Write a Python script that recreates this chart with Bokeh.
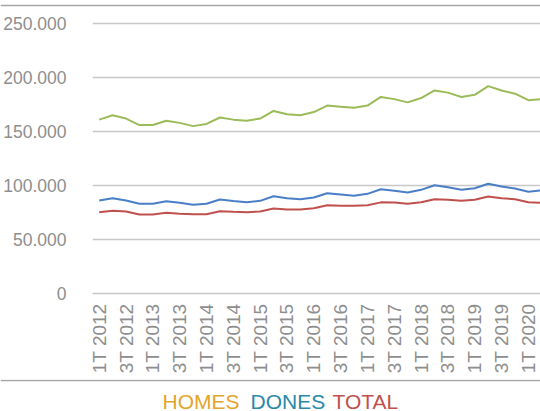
from bokeh.plotting import figure
from bokeh.layouts import column
from bokeh.models import FixedTicker, Label, Range1d
from bokeh.embed import file_html
from bokeh.resources import INLINE
from math import pi

quarters = ["1T 2012", "2T 2012", "3T 2012", "4T 2012",
            "1T 2013", "2T 2013", "3T 2013", "4T 2013",
            "1T 2014", "2T 2014", "3T 2014", "4T 2014",
            "1T 2015", "2T 2015", "3T 2015", "4T 2015",
            "1T 2016", "2T 2016", "3T 2016", "4T 2016",
            "1T 2017", "2T 2017", "3T 2017", "4T 2017",
            "1T 2018", "2T 2018", "3T 2018", "4T 2018",
            "1T 2019", "2T 2019", "3T 2019", "4T 2019",
            "1T 2020", "2T 2020"]

dones = [86100, 88200, 86100, 83100, 83100, 85500, 84000, 82100, 83100, 87000, 85700,
         84500, 85800, 90100, 88200, 87300, 88900, 92900, 91700, 90500, 92300, 96600,
         95100, 93500, 96000, 100300, 98400, 96000, 97500, 101600, 99100, 97200, 94200, 95600]

homes = [75300, 76600, 75900, 73100, 73100, 74700, 73800, 73400, 73400, 76200, 75600,
         75300, 75900, 78700, 77800, 77800, 79000, 81800, 81200, 81200, 81800, 84400,
         84300, 83100, 84500, 87300, 86800, 85800, 86800, 89800, 88200, 87300, 84500, 84000]

total = [161000, 165000, 162000, 156000, 156000, 160000, 158000, 155000, 157000, 163000, 161000,
         160000, 162000, 169000, 166000, 165000, 168000, 174000, 173000, 172000, 174000, 182000,
         180000, 177000, 181000, 188000, 186000, 182000, 184000, 192000, 188000, 185000, 179000, 180000]

y_ticks = [0, 50000, 100000, 150000, 200000, 250000]
y_labels = ["0", "50.000", "100.000", "150.000", "200.000", "250.000"]

title_words = ["HOMES", "DONES", "TOTAL"]
title_colors = ["#E2A52B", "#2A88A8", "#C0504D"]

FONT = "Liberation Sans"
GRAY = "#8E8E8E"
RULE = "#A6A6A6"
W = 540

idx = list(range(len(quarters)))


def strip(h):
    f = figure(width=W, height=h, output_backend="svg", toolbar_location=None, title=None,
               x_range=Range1d(0, W), y_range=Range1d(h, 0),
               x_axis_type=None, y_axis_type=None, frame_align=False,
               min_border_left=0, min_border_right=0, min_border_top=0, min_border_bottom=0)
    f.outline_line_color = None
    f.xgrid.visible = False
    f.ygrid.visible = False
    f.background_fill_color = "white"
    f.border_fill_color = "white"
    return f


# top rule
top = strip(12)
top.quad(left=[0], right=[W], top=[4.3], bottom=[5.7], fill_color=RULE, line_color=None)

# main chart
p = figure(width=W, height=367, output_backend="svg", toolbar_location=None, title=None,
           x_range=Range1d(-0.5, 32.9), y_range=Range1d(0, 252800), frame_align=False,
           min_border_left=92, min_border_right=0, min_border_top=8, min_border_bottom=86)
p.outline_line_color = None
p.background_fill_color = "white"
p.border_fill_color = "white"

p.line(idx, total, line_color="#9BBB59", line_width=2)
p.line(idx, dones, line_color="#4A7EC7", line_width=2)
p.line(idx, homes, line_color="#C0504D", line_width=2)

p.yaxis.ticker = FixedTicker(ticks=y_ticks)
p.yaxis.major_label_overrides = {t: l for t, l in zip(y_ticks, y_labels)}
p.yaxis.axis_line_color = None
p.yaxis.major_tick_line_color = None
p.yaxis.minor_tick_line_color = None
p.yaxis.major_label_standoff = 20
p.yaxis.major_label_text_font = FONT
p.yaxis.major_label_text_font_size = "17.5px"
p.yaxis.major_label_text_color = GRAY

even = idx[::2]
p.xaxis.ticker = FixedTicker(ticks=even)
p.xaxis.major_label_overrides = {i: quarters[i] for i in even}
p.xaxis.major_label_orientation = pi / 2
p.xaxis.axis_line_color = "#C8C8C8"
p.xaxis.axis_line_width = 1.3
p.xaxis.major_tick_line_color = None
p.xaxis.minor_tick_line_color = None
p.xaxis.major_label_standoff = 4
p.xaxis.major_label_text_font = FONT
p.xaxis.major_label_text_font_size = "19px"
p.xaxis.major_label_text_color = GRAY

p.xgrid.grid_line_color = None
p.ygrid.ticker = FixedTicker(ticks=y_ticks)
p.ygrid.grid_line_color = "#C8C8C8"
p.ygrid.grid_line_width = 1.3

# bottom rule + coloured title
bot = strip(32)
bot.quad(left=[0], right=[W], top=[0.3], bottom=[1.7], fill_color=RULE, line_color=None)
xs = [162, 250, 332]
for w, c, x in zip(title_words, title_colors, xs):
    bot.add_layout(Label(x=x, y=22, text=w, text_color=c, text_font=FONT,
                         text_font_size="21px", text_baseline="alphabetic",
                         text_align="left"))

layout = column(top, p, bot, spacing=0)
open("out.html", "w").write(file_html(layout, INLINE))
